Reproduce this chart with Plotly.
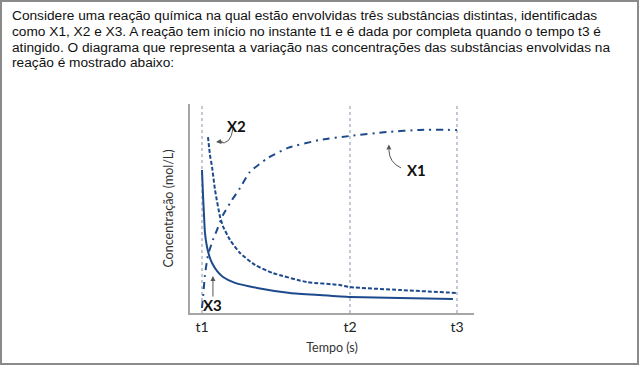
import plotly.graph_objects as go

# ---------------- data ----------------
tick_vals = [0, 100, 172.3]
tick_text = ["t1", "t2", "t3"]

x1_time = [0, 1.0, 2.0, 4.1, 7.4, 10.1, 14.2, 20.3, 25.7, 32.4, 44.6, 58.1, 79.7, 100, 125, 147.3, 172.3]
x1_conc = [2.4, 10.0, 18.2, 27.8, 35.0, 39.7, 46.9, 54.1, 59.8, 67.5, 74.2, 79.0, 82.8, 84.7, 86.6, 87.6, 87.6]

x2_time = [4.05, 5.4, 6.8, 8.8, 12.2, 14.2, 18.9, 25.7, 35.8, 48.0, 70.9, 93.2, 100, 133.8, 172.3]
x2_conc = [84.2, 75.6, 69.9, 58.9, 46.0, 41.5, 35.0, 28.7, 23.0, 19.1, 14.8, 13.4, 12.4, 11.0, 9.6]

x3_time = [0, 0.68, 1.35, 2.0, 3.4, 5.4, 6.8, 10.1, 14.2, 22.3, 37.2, 59.5, 79.7, 100, 133.8, 169.6]
x3_conc = [68.4, 56.5, 46.9, 38.3, 31.6, 26.3, 23.9, 20.1, 17.2, 14.4, 12.0, 9.6, 8.6, 7.7, 7.2, 6.7]

paragraph = [
    "Considere uma reação química na qual estão envolvidas três substâncias distintas, identificadas",
    "como X1, X2 e X3. A reação tem início no instante t1 e é dada por completa quando o tempo t3 é",
    "atingido. O diagrama que representa a variação nas concentrações das substâncias envolvidas na",
    "reação é mostrado abaixo:",
]

# ---------------- layout geometry ----------------
W, H = 640, 366
L, R, T, B = 190, 166, 104, 53
PW, PH = W - L - R, H - T - B


def px(xp):
    return (xp - L) / PW


def py(yp):
    return (H - B - yp) / PH


BLUE = "#1d4a8c"

fig = go.Figure()
fig.add_trace(go.Scatter(x=x1_time, y=x1_conc, mode="lines", name="X1",
                         line=dict(color=BLUE, width=2, dash="7px,5px,2px,5px", shape="spline", smoothing=0.5)))
fig.add_trace(go.Scatter(x=x2_time, y=x2_conc, mode="lines", name="X2",
                         line=dict(color=BLUE, width=2, dash="4px,2px", shape="spline", smoothing=0.5)))
fig.add_trace(go.Scatter(x=x3_time, y=x3_conc, mode="lines", name="X3",
                         line=dict(color=BLUE, width=2, shape="spline", smoothing=0.5)))

for v in tick_vals:
    fig.add_vline(x=v, line=dict(color="#8793ad", width=1, dash="dot"), layer="below")

# outer frame
fig.add_shape(type="rect", xref="paper", yref="paper",
              x0=px(1), x1=px(638), y0=py(364), y1=py(1),
              line=dict(color="#8a8a8a", width=2))

ann = []
for i, line in enumerate(paragraph):
    ann.append(dict(xref="paper", yref="paper", x=px(10), y=py(15 + i * 16),
                    xanchor="left", yanchor="middle", text=line, showarrow=False,
                    font=dict(family="Liberation Sans, Arial", size=13.7, color="#111")))

lab_font = dict(family="Lato, Open Sans", size=15, color="#111")
ann += [
    dict(x=23, y=89.5, text="<b>X2</b>", showarrow=False, font=lab_font),
    dict(x=145, y=68.5, text="<b>X1</b>", showarrow=False, font=lab_font),
    dict(x=7.4, y=3.8, text="<b>X3</b>", showarrow=False, font=lab_font),
    # arrow heads
    dict(x=9.5, y=81.8, ax=8, ay=-1, text="", showarrow=True, arrowhead=2,
         arrowsize=1, arrowwidth=1, arrowcolor="#555"),
    dict(x=126.3, y=80.6, ax=0, ay=6, text="", showarrow=True, arrowhead=2,
         arrowsize=1, arrowwidth=1, arrowcolor="#555"),
    dict(x=7.4, y=17.7, ax=0, ay=22, text="", showarrow=True, arrowhead=2,
         arrowsize=1, arrowwidth=1, arrowcolor="#555"),
]

# curved arrow tails
fig.add_shape(type="path", path="M 21.0,88.5 Q 19.5,80.0 11.5,81.6",
              line=dict(color="#555", width=1))
fig.add_shape(type="path", path="M 134.5,69.4 Q 126.5,72.0 126.3,78.0",
              line=dict(color="#555", width=1))

fig.update_layout(
    width=W, height=H, autosize=False,
    margin=dict(l=L, r=R, t=T, b=B),
    paper_bgcolor="white", plot_bgcolor="white",
    showlegend=False,
    annotations=ann,
    xaxis=dict(range=[-8.1, 183.8], showgrid=False, zeroline=False,
               showline=True, linecolor="#a6a6a6", linewidth=2,
               tickvals=tick_vals, ticktext=tick_text, ticks="",
               tickfont=dict(family="Lato, Open Sans", size=14, color="#222"),
               title=dict(text="Tempo (s)", standoff=9,
                          font=dict(family="Lato, Open Sans", size=12.5, color="#333"))),
    yaxis=dict(range=[0, 100], showgrid=False, zeroline=False,
               showline=True, linecolor="#a6a6a6", linewidth=2,
               showticklabels=False, ticks="",
               title=dict(text="Concentração (mol/L)", standoff=12,
                          font=dict(family="Lato, Open Sans", size=12.5, color="#333"))),
)

fig.write_html("out.html", config={"displayModeBar": False},
               post_script="document.body.style.margin='0';document.body.style.overflow='hidden';")
